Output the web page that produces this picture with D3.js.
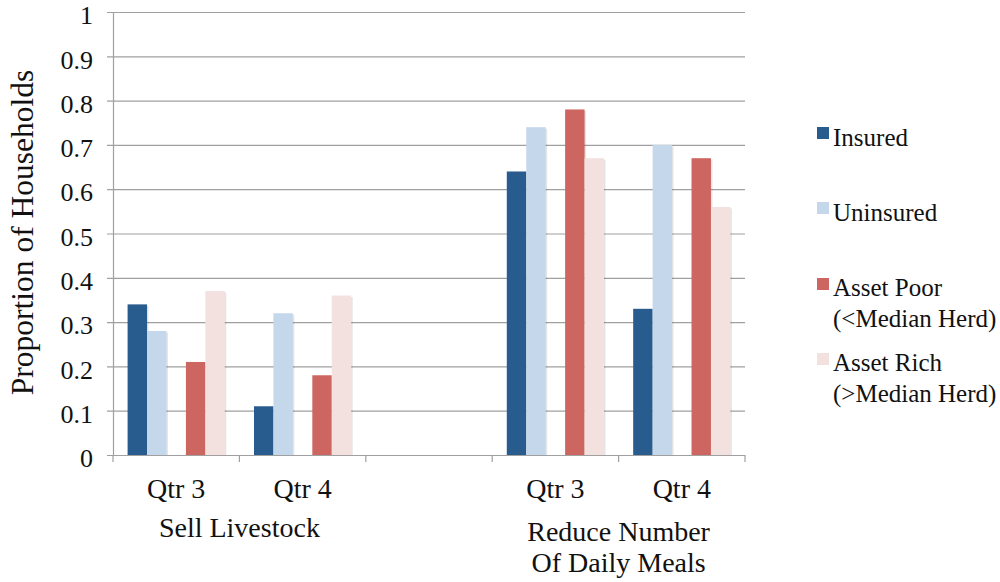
<!DOCTYPE html>
<html>
<head>
<meta charset="utf-8">
<script src="https://cdn.jsdelivr.net/npm/d3@7"></script>
<style>
  html, body { margin: 0; padding: 0; background: #fff; }
  svg { display: block; }
</style>
</head>
<body>
<svg id="chart" width="1000" height="582"></svg>
<script>
// Category slots along the x axis (the empty slot separates the two groups)
const slotKeys   = ["sell-q3", "sell-q4", "spacer", "meals-q3", "meals-q4"];
const slotLabels = ["Qtr 3", "Qtr 4", "", "Qtr 3", "Qtr 4"];

// Group captions shown under the quarter labels, with the slots they span
const groupLabels = [["Sell Livestock"], ["Reduce Number", "Of Daily Meals"]];
const groupSpans  = [["sell-q3", "sell-q4"], ["meals-q3", "meals-q4"]];

// Series values, one per slot (null for the spacer slot)
const insured   = [0.34, 0.11, null, 0.64, 0.33];
const uninsured = [0.28, 0.32, null, 0.74, 0.70];
const assetPoor = [0.21, 0.18, null, 0.78, 0.67];
const assetRich = [0.37, 0.36, null, 0.67, 0.56];

// Series names (legend lines) and the blank series that leaves a gap inside each cluster
const seriesKeys   = ["insured", "uninsured", "blank", "poor", "rich"];
const seriesNames  = [["Insured"], ["Uninsured"], null, ["Asset Poor", "(<Median Herd)"], ["Asset Rich", "(>Median Herd)"]];
const seriesColors = ["#285c8e", "#c5d7eb", null, "#cd6660", "#f3e1e0"];
const seriesValues = [insured, uninsured, null, assetPoor, assetRich];

// Value axis ticks
const yTicks = [0, 0.1, 0.2, 0.3, 0.4, 0.5, 0.6, 0.7, 0.8, 0.9, 1];
const yTickLabels = ["0", "0.1", "0.2", "0.3", "0.4", "0.5", "0.6", "0.7", "0.8", "0.9", "1"];

const FONT = "Liberation Serif, Tinos, Noto Serif, DejaVu Serif, Times New Roman, Times, serif";
const svg = d3.select("#chart");
const plot = { left: 113, right: 745, top: 12, bottom: 455 };

const x = d3.scaleBand().domain(slotKeys).range([plot.left, plot.right]).padding(0);
const xs = d3.scaleBand().domain(seriesKeys).range([0, x.bandwidth()])
  .paddingInner(0).paddingOuter(0.75);
const y = d3.scaleLinear().domain([0, 1]).range([plot.bottom, plot.top]);

const gridColor = "#a0a0a0";

// Horizontal gridlines with short outside ticks
const yAxis = d3.axisLeft(y).tickValues(yTicks)
  .tickSize(-(plot.right - plot.left)).tickSizeOuter(0)
  .tickFormat((d, i) => yTickLabels[i]).tickPadding(20);
const gy = svg.append("g").attr("transform", `translate(${plot.left},0)`).call(yAxis)
  .attr("font-family", FONT);
gy.select(".domain").attr("stroke", gridColor).attr("stroke-width", 1.2);
gy.selectAll(".tick line").attr("stroke", gridColor).attr("stroke-width", 1.2)
  .attr("x1", -6);
gy.selectAll(".tick text")
  .attr("fill", "#111").attr("font-size", 26)
  .attr("dy", "0.45em");

// Category axis along the bottom: tick marks on slot boundaries
const boundaries = slotKeys.map(k => x(k)).concat([x(slotKeys[slotKeys.length - 1]) + x.bandwidth()]);
const gx = svg.append("g");
gx.selectAll("line.xt").data(boundaries).join("line")
  .attr("x1", d => d).attr("x2", d => d)
  .attr("y1", plot.bottom).attr("y2", plot.bottom + 7)
  .attr("stroke", gridColor).attr("stroke-width", 1.2);

// Bars, with a faint drop shadow on their right side
const bars = svg.append("g");
seriesKeys.forEach((key, si) => {
  const vals = seriesValues[si];
  if (!vals) return;
  const data = slotKeys.map((k, i) => ({ slot: k, v: vals[i] })).filter(d => d.v != null);
  bars.selectAll(`rect.shadow-${key}`).data(data).join("rect")
    .attr("x", d => x(d.slot) + xs(key) + 1.5)
    .attr("y", d => y(d.v) + 1.5)
    .attr("width", xs.bandwidth())
    .attr("height", d => y(0) - y(d.v) - 1.5)
    .attr("fill", "#000").attr("opacity", 0.1);
  bars.selectAll(`rect.bar-${key}`).data(data).join("rect")
    .attr("x", d => x(d.slot) + xs(key))
    .attr("y", d => y(d.v))
    .attr("width", xs.bandwidth())
    .attr("height", d => y(0) - y(d.v))
    .attr("fill", seriesColors[si]);
});

// Quarter labels
svg.append("g").selectAll("text").data(slotKeys.map((k, i) => ({ k, t: slotLabels[i] })).filter(d => d.t))
  .join("text")
  .attr("x", d => x(d.k) + x.bandwidth() / 2)
  .attr("y", 498)
  .attr("text-anchor", "middle")
  .attr("font-family", FONT)
  .attr("font-size", 28).attr("fill", "#111")
  .text(d => d.t);

// Group captions
const groupBaselines = [[537], [541, 572]];
groupLabels.forEach((lines, gi) => {
  const span = groupSpans[gi];
  const cx = (x(span[0]) + x(span[span.length - 1]) + x.bandwidth()) / 2;
  lines.forEach((line, li) => {
    svg.append("text")
      .attr("x", cx).attr("y", groupBaselines[gi][li])
      .attr("text-anchor", "middle")
      .attr("font-family", FONT)
      .attr("font-size", 28).attr("fill", "#111")
      .text(line);
  });
});

// Value axis title
svg.append("text")
  .attr("transform", "translate(33,232.5) rotate(-90)")
  .attr("text-anchor", "middle")
  .attr("font-family", FONT)
  .attr("font-size", 31.5).attr("fill", "#111")
  .text("Proportion of Households");

// Legend
const legendRows = [
  { si: 0, top: 127, baselines: [146] },
  { si: 1, top: 202, baselines: [221] },
  { si: 3, top: 278, baselines: [296, 327] },
  { si: 4, top: 353, baselines: [371, 402] }
];
const legend = svg.append("g");
legendRows.forEach(r => {
  legend.append("rect")
    .attr("x", 817).attr("y", r.top).attr("width", 12).attr("height", 12)
    .attr("fill", seriesColors[r.si]);
  seriesNames[r.si].forEach((line, li) => {
    legend.append("text")
      .attr("x", 833).attr("y", r.baselines[li])
      .attr("font-family", FONT)
      .attr("font-size", 25).attr("fill", "#111")
      .text(line);
  });
});
</script>
</body>
</html>
